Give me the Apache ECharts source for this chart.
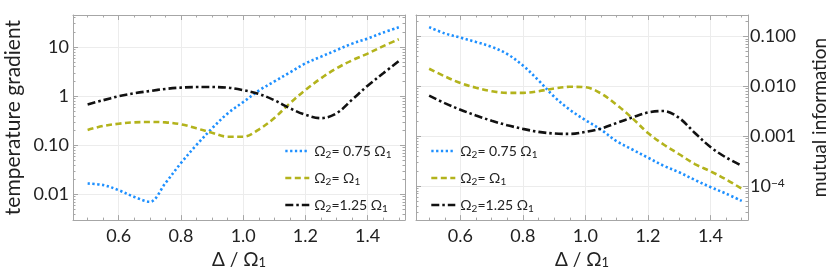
<!DOCTYPE html>
<html><head><meta charset="utf-8">
<script src="https://cdn.jsdelivr.net/npm/echarts@6/dist/echarts.min.js"></script>
<style>html,body{margin:0;padding:0;background:#fff}#c{width:830px;height:274px}</style>
</head><body><div id="c"></div>
<script>
// ---------- data ----------
const xValues = [0.50,0.55,0.60,0.65,0.70,0.75,0.80,0.85,0.90,0.95,1.00,1.05,1.10,1.15,1.20,1.25,1.30,1.35,1.40,1.45,1.50];
// temperature gradient (left panel)
const tempW075 = [0.0167,0.0155,0.0122,0.0089,0.0071,0.0170,0.0436,0.102,0.222,0.447,0.76,1.30,2.0,3.06,4.67,6.4,8.7,11.8,15,19.8,25.4];
const tempW100 = [0.206,0.248,0.276,0.294,0.299,0.294,0.268,0.222,0.180,0.150,0.150,0.21,0.36,0.72,1.34,2.32,3.7,5.4,7.4,10.5,14.5];
const tempW125 = [0.68,0.83,1.0,1.15,1.28,1.41,1.50,1.54,1.54,1.50,1.33,1.12,0.83,0.57,0.42,0.358,0.45,0.85,1.64,2.93,5.2];
// mutual information (right panel)
const miW075 = [0.155,0.116,0.0955,0.078,0.0624,0.0446,0.0263,0.0132,0.0062,0.0034,0.0021,0.00135,0.00079,0.00054,0.00037,0.000255,0.000188,0.000132,0.000095,0.000070,0.000050];
const miW100 = [0.0226,0.0159,0.0117,0.0094,0.0080,0.0074,0.0074,0.0080,0.0091,0.0098,0.0096,0.0072,0.00425,0.0023,0.00116,0.00068,0.000433,0.000275,0.000197,0.000135,0.000088];
const miW125 = [0.0065,0.0046,0.0034,0.0026,0.00204,0.00166,0.0014,0.00122,0.00113,0.00111,0.00122,0.00142,0.00184,0.00238,0.00299,0.0032,0.00231,0.00116,0.000605,0.000372,0.000255];

const seriesNames = ['Ω2= 0.75 Ω1','Ω2= Ω1','Ω2=1.25 Ω1'];
const legendLabels = ['Ω{s|2}= 0.75 Ω{s|1}','Ω{s|2}= Ω{s|1}','Ω{s|2}=1.25 Ω{s|1}'];
const xTickValues = [0.6,0.8,1.0,1.2,1.4];
const xTickLabels = ['0.6','0.8','1.0','1.2','1.4'];
const tempTickValues = [0.01,0.1,1,10];
const tempTickLabels = ['0.01','0.10','1','10'];
const miTickValues = [0.0001,0.001,0.01,0.1];
const miTickLabels = ['10{sup|−4}','0.001','0.010','0.100'];
const xTitle = 'Δ / Ω{s|1}';
const leftTitle = 'temperature gradient';
const rightTitle = 'mutual information';

// ---------- styling ----------
const FONT = 'Lato';
const TXT = '#222';
const FRAME = '#a6a6a6';
const GRIDC = '#ececec';
const colors = ['#1e90ff', '#b3b31c', '#111111'];
const dashes = [[2.3, 2.5], [6, 3.5], [8, 3, 2.5, 3]];

const xMinor = [];
for (let i = 0; i <= 21; i++) xMinor.push(+(0.45 + i * 0.05).toFixed(2));
function logMinor(lo, hi) {
  const out = [];
  for (let e = lo; e <= hi; e++) for (let m = 2; m <= 9; m++) out.push(+(m * Math.pow(10, e)).toPrecision(3));
  return out;
}
const grids = [
  {left: 73, top: 15, width: 332, height: 206, xmin: 0.453, xmax: 1.52, ymin: 0.0030, ymax: 45.2,
   ticks: tempTickValues, labels: tempTickLabels, minor: logMinor(-3, 1), labelSide: 'left',
   title: leftTitle, nameGap: 49, titleSize: 21, labelMargin: 4},
  {left: 416, top: 15, width: 332, height: 206, xmin: 0.458, xmax: 1.52, ymin: 2.06e-5, ymax: 0.2716,
   ticks: miTickValues, labels: miTickLabels, minor: logMinor(-5, -1), labelSide: 'right',
   title: rightTitle, nameGap: 62, titleSize: 19, labelMargin: 2}
];

function lookup(vals, labs) {
  return v => { for (let i = 0; i < vals.length; i++) if (Math.abs(Math.log10(v) - Math.log10(vals[i])) < 1e-3) return labs[i]; return ''; };
}
function lookupX(vals, labs) {
  return v => { for (let i = 0; i < vals.length; i++) if (Math.abs(v - vals[i]) < 1e-6) return labs[i]; return ''; };
}

const xAxis = [], yAxis = [], grid = [];
grids.forEach((g, gi) => {
  grid.push({left: g.left, top: g.top, width: g.width, height: g.height, show: false});
  const xb = {gridIndex: gi, type: 'value', min: g.xmin, max: g.xmax};
  xAxis.push(Object.assign({}, xb, {position: 'bottom',
    axisLine: {show: true, lineStyle: {color: FRAME, width: 1}},
    axisTick: {show: true, inside: true, length: 5, lineStyle: {color: FRAME}, customValues: xTickValues},
    axisLabel: {show: true, customValues: xTickValues, formatter: lookupX(xTickValues, xTickLabels), margin: 7,
      fontFamily: FONT, fontSize: 18, color: TXT},
    splitLine: {show: true, lineStyle: {color: GRIDC, width: 1}},
    name: xTitle, nameLocation: 'middle', nameGap: 23,
    nameTextStyle: {fontFamily: FONT, fontSize: 19, color: TXT, rich: {s: {fontFamily: FONT, fontSize: 13, color: TXT, verticalAlign: 'bottom', lineHeight: 14}}}
  }));
  xAxis.push(Object.assign({}, xb, {position: 'bottom', axisLine: {show: false},
    axisTick: {show: true, inside: true, length: 2.5, lineStyle: {color: FRAME}, customValues: xMinor},
    axisLabel: {show: false}, splitLine: {show: false}}));
  xAxis.push(Object.assign({}, xb, {position: 'top',
    axisLine: {show: true, lineStyle: {color: FRAME, width: 1}},
    axisTick: {show: true, inside: true, length: 5, lineStyle: {color: FRAME}, customValues: xTickValues},
    axisLabel: {show: false}, splitLine: {show: false}}));
  xAxis.push(Object.assign({}, xb, {position: 'top', axisLine: {show: false},
    axisTick: {show: true, inside: true, length: 2.5, lineStyle: {color: FRAME}, customValues: xMinor},
    axisLabel: {show: false}, splitLine: {show: false}}));

  const other = g.labelSide === 'left' ? 'right' : 'left';
  const yb = {gridIndex: gi, type: 'log', logBase: 10, min: g.ymin, max: g.ymax};
  yAxis.push(Object.assign({}, yb, {position: g.labelSide,
    axisLine: {show: true, lineStyle: {color: FRAME, width: 1}},
    axisTick: {show: true, inside: true, length: 5, lineStyle: {color: FRAME}, customValues: g.ticks},
    axisLabel: {show: true, customValues: g.ticks, formatter: lookup(g.ticks, g.labels), margin: g.labelMargin,
      fontFamily: FONT, fontSize: 18, color: TXT,
      rich: {sup: {fontFamily: FONT, fontSize: 12, color: TXT, verticalAlign: 'top', lineHeight: 11}}},
    splitLine: {show: true, lineStyle: {color: GRIDC, width: 1}},
    name: g.title, nameLocation: 'middle', nameRotate: 90, nameGap: g.nameGap,
    nameTextStyle: {fontFamily: FONT, fontSize: g.titleSize, color: TXT}
  }));
  yAxis.push(Object.assign({}, yb, {position: g.labelSide, axisLine: {show: false},
    axisTick: {show: true, inside: true, length: 2.5, lineStyle: {color: FRAME}, customValues: g.minor},
    axisLabel: {show: false}, splitLine: {show: false}}));
  yAxis.push(Object.assign({}, yb, {position: other,
    axisLine: {show: true, lineStyle: {color: FRAME, width: 1}},
    axisTick: {show: true, inside: true, length: 5, lineStyle: {color: FRAME}, customValues: g.ticks},
    axisLabel: {show: false}, splitLine: {show: false}}));
  yAxis.push(Object.assign({}, yb, {position: other, axisLine: {show: false},
    axisTick: {show: true, inside: true, length: 2.5, lineStyle: {color: FRAME}, customValues: g.minor},
    axisLabel: {show: false}, splitLine: {show: false}}));
});

const panels = [[tempW075, tempW100, tempW125], [miW075, miW100, miW125]];
const series = [];
panels.forEach((arrs, gi) => {
  arrs.forEach((vals, si) => {
    series.push({
      name: seriesNames[si], type: 'line', xAxisIndex: gi * 4, yAxisIndex: gi * 4,
      data: xValues.map((x, i) => [x, vals[i]]),
      smooth: 0.35, showSymbol: false, symbol: 'none', silent: true, animation: false,
      lineStyle: {color: colors[si], width: 2.6, type: dashes[si], cap: 'butt'},
      itemStyle: {color: colors[si]}
    });
  });
});

const legendText = {fontFamily: FONT, fontSize: 14, color: TXT, lineHeight: 18,
  rich: {s: {fontFamily: FONT, fontSize: 10, color: TXT, verticalAlign: 'bottom', lineHeight: 11}}};
function legendFmt(name) { return legendLabels[seriesNames.indexOf(name)]; }
const legendBase = {top: 137, orient: 'vertical', itemGap: 9, itemWidth: 24, itemHeight: 12, data: seriesNames,
  formatter: legendFmt, textStyle: legendText, selectedMode: false,
  lineStyle: {width: 2.6}, itemStyle: {opacity: 0, borderWidth: 0}};
const legend = [
  Object.assign({left: 279}, legendBase),
  Object.assign({left: 425}, legendBase)
];

const chart = echarts.init(document.getElementById('c'), null, {renderer: 'canvas'});
chart.setOption({animation: false, backgroundColor: '#fff', grid, xAxis, yAxis, series, legend});
</script>
</body></html>
